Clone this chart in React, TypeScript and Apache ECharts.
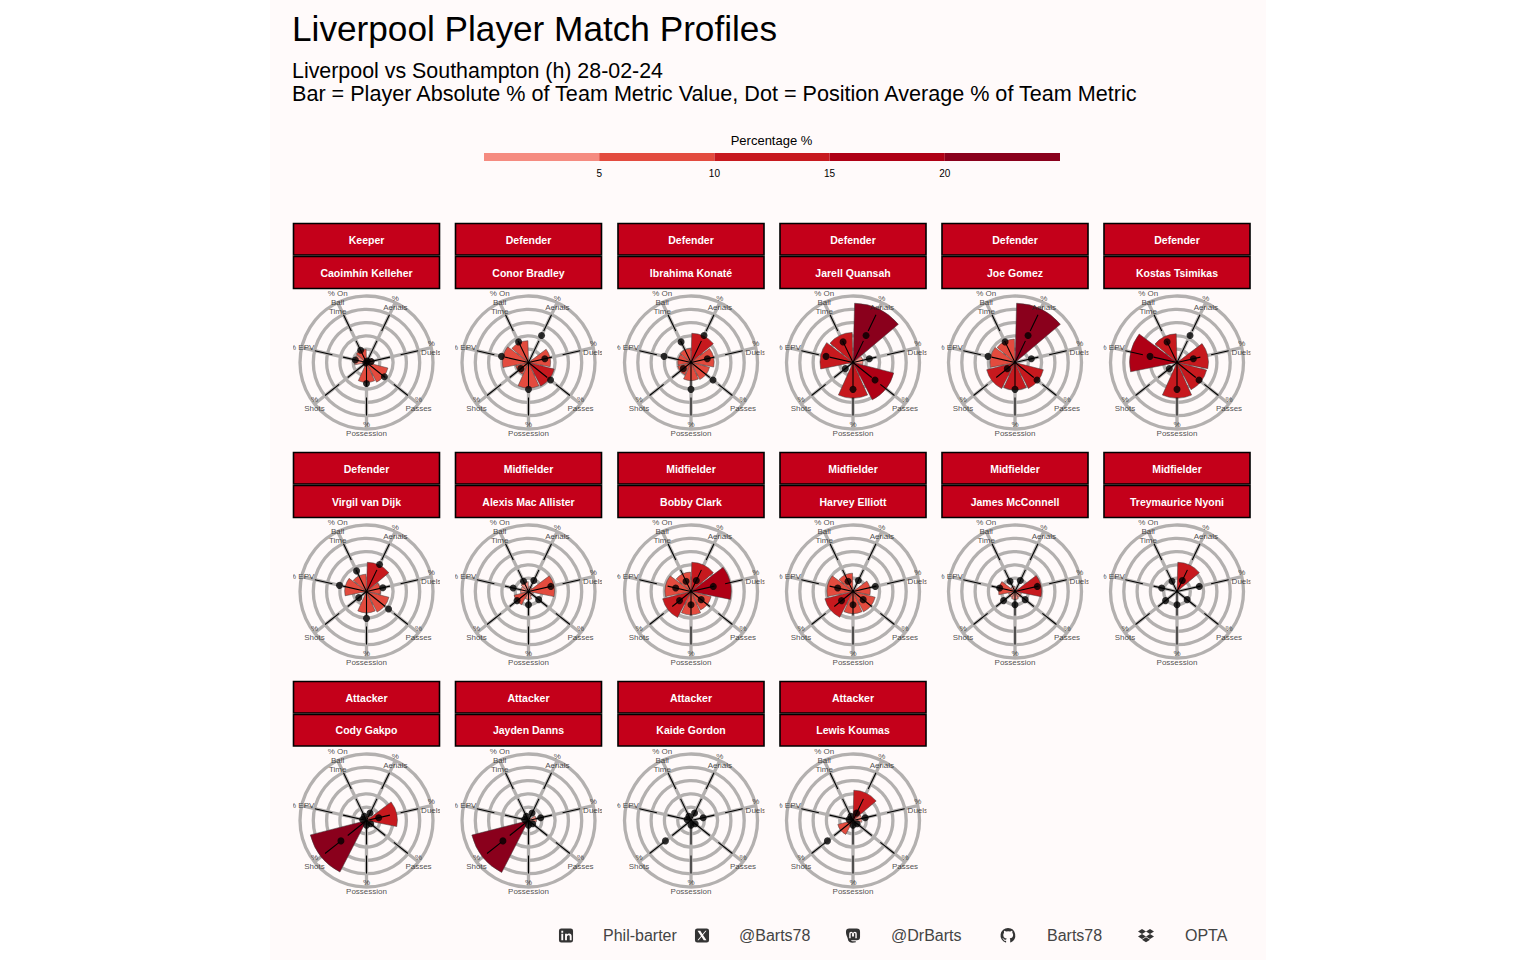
import React, { useEffect, useRef } from "react";
import * as echarts from "echarts";

const metrics = ["% Aerials", "% Duels", "% Passes", "% Possession", "% Shots", "% EPV", "% On Ball Time"];
const metricLabels = ["%\nAerials", "%\nDuels", "%\nPasses", "%\nPossession", "%\nShots", "% EPV", "% On\nBall\nTime"];

const players = [
  "Caoimhín Kelleher", "Conor Bradley", "Ibrahima Konaté", "Jarell Quansah", "Joe Gomez", "Kostas Tsimikas",
  "Virgil van Dijk", "Alexis Mac Allister", "Bobby Clark", "Harvey Elliott", "James McConnell", "Treymaurice Nyoni",
  "Cody Gakpo", "Jayden Danns", "Kaide Gordon", "Lewis Koumas",
];
const positions = [
  "Keeper", "Defender", "Defender", "Defender", "Defender", "Defender",
  "Defender", "Midfielder", "Midfielder", "Midfielder", "Midfielder", "Midfielder",
  "Attacker", "Attacker", "Attacker", "Attacker",
];

const kelleher = [1.6, 2.6, 8.3, 7.5, 0.8, 4.5, 5.0];
const bradley = [0.3, 8.3, 10.0, 9.6, 5.0, 9.8, 8.2];
const konate = [11.0, 8.7, 7.2, 6.8, 5.2, 5.0, 5.3];
const quansah = [22.3, 3.8, 15.8, 13.4, 1.0, 12.4, 11.3];
const gomez = [22.3, 0.5, 11.0, 10.3, 11.0, 9.4, 8.8];
const tsimikas = [0.4, 11.8, 11.5, 13.4, 0.5, 17.8, 10.8];
const vanDijk = [11.0, 5.3, 8.7, 8.0, 1.0, 8.2, 6.5];
const macAllister = [1.8, 9.8, 1.9, 3.0, 5.6, 3.0, 3.7];
const clark = [11.0, 15.1, 7.8, 8.8, 11.0, 9.8, 7.3];
const elliott = [0.3, 6.5, 8.6, 8.3, 10.9, 9.8, 6.9];
const mcConnell = [0.7, 10.0, 2.5, 3.0, 2.5, 6.2, 2.0];
const nyoni = [11.0, 0.3, 0.3, 0.3, 0.3, 0.3, 0.3];
const gakpo = [1.8, 11.6, 1.5, 1.5, 21.8, 0.5, 0.5];
const danns = [1.0, 3.0, 1.0, 1.0, 22.0, 0.8, 0.8];
const gordon = [0.3, 0.3, 0.3, 0.3, 0.3, 0.3, 0.3];
const koumas = [11.4, 3.4, 1.0, 1.0, 5.9, 0.8, 0.8];
const playerValues = [
  kelleher, bradley, konate, quansah, gomez, tsimikas, vanDijk, macAllister,
  clark, elliott, mcConnell, nyoni, gakpo, danns, gordon, koumas,
];

const keeperAvg = [0.6, 1.8, 8.6, 7.9, 0.3, 4.3, 5.1];
const defenderAvg = [11.3, 6.3, 10.6, 10.1, 3.7, 10.4, 8.6];
const midfielderAvg = [4.6, 8.6, 4.9, 5.0, 5.5, 5.9, 4.3];
const attackerAvg = [3.1, 4.7, 2.0, 1.8, 12.3, 1.5, 1.8];
const averages: Record<string, number[]> = {
  Keeper: keeperAvg, Defender: defenderAvg, Midfielder: midfielderAvg, Attacker: attackerAvg,
};

const legendSteps = [5, 5, 5, 5, 5];
const legendColors = ["#F58B80", "#E34B3E", "#C7191E", "#AF0015", "#8A001C"];

const BG = "#FFFAFA";
const FONT = "Liberation Sans";
const OX = 270;
const panelLefts = [293, 455, 617.5, 779.5, 941.5, 1103.5];
const panelW = 147;
const rowHeader = [223, 452, 681];
const rowCentre = [362.5, 591.5, 820.5];

const colorFor = (v: number) => legendColors[Math.min(4, Math.floor(v / 5))];

const iconPaths: Record<string, string> = {
  iconIn: "M3 6h2v7H3z M3 3h2v2H3z M7 6h2v1c.5-.8 1.3-1.2 2.3-1.2 1.7 0 2.7 1 2.7 3V13h-2V9.2c0-1-.4-1.6-1.2-1.6S9 8.2 9 9.2V13H7z",
  iconX: "M3.2 3h2.9l6.7 10H9.9z M11.6 3h1.2L4.4 13H3.2z",
  iconM: "M4 11V6a2 2 0 0 1 4 0v3V6a2 2 0 0 1 4 0v5h-1.5V6.2a.6.6 0 0 0-1.5 0V9H7V6.2a.6.6 0 0 0-1.5 0V11z",
  iconBox: "M3 0.5h10a2.5 2.5 0 0 1 2.5 2.5v10a2.5 2.5 0 0 1-2.5 2.5H3A2.5 2.5 0 0 1 .5 13V3A2.5 2.5 0 0 1 3 .5z",
  iconMasto: "M4 .5h8a3.5 3.5 0 0 1 3.5 3.5v5.5a3.5 3.5 0 0 1-3.5 3.5H6c0 1 1.5 1.4 5 1v1.2c-5 1-8 .2-8.5-3.5C2 9 .5 8 .5 4A3.5 3.5 0 0 1 4 .5z",
  iconGit: "M8 .5a7.5 7.5 0 0 0-2.4 14.6c.4.1.5-.2.5-.4v-1.4c-2.1.5-2.5-1-2.5-1-.4-.9-.9-1.1-.9-1.1-.7-.5.1-.5.1-.5.8.1 1.2.8 1.2.8.7 1.2 1.8.8 2.2.6.1-.5.3-.9.5-1.1-1.7-.2-3.4-.8-3.4-3.7 0-.8.3-1.5.8-2-.1-.2-.4-1 .1-2 0 0 .6-.2 2.1.8a7 7 0 0 1 3.8 0c1.5-1 2.1-.8 2.1-.8.4 1 .2 1.8.1 2 .5.5.8 1.2.8 2 0 2.9-1.8 3.5-3.4 3.7.3.2.5.7.5 1.4v2.1c0 .2.1.5.5.4A7.5 7.5 0 0 0 8 .5z",
  iconDrop: "M4 1.5L8 4 4 6.5 0 4z M12 1.5L16 4 12 6.5 8 4z M4 6.5 8 9 4 11.5 0 9z M12 6.5 16 9 12 11.5 8 9z M8 9.8l4 2.5-4 2.5-4-2.5z",
};
Object.keys(iconPaths).forEach((k) => {
  echarts.graphic.registerShape(k, echarts.graphic.extendPath(iconPaths[k], {}) as any);
});

const footerTexts = [
  { x: 603, t: "Phil-barter" }, { x: 739, t: "@Barts78" }, { x: 891, t: "@DrBarts" },
  { x: 1047, t: "Barts78" }, { x: 1185, t: "OPTA" },
];

function buildOption() {
  const polar: any[] = [];
  const angleAxis: any[] = [];
  const radiusAxis: any[] = [];
  const series: any[] = [];
  const graphic: any[] = [];

  const text = (x: number, y: number, t: string, fontSize: number, fill: string, extra: any = {}) => ({
    type: "text", x: x - OX, y, z: 120,
    style: { text: t, fontSize, fill, fontFamily: FONT, textAlign: "left", textVerticalAlign: "middle", ...extra },
  });

  graphic.push(text(292, 28, "Liverpool Player Match Profiles", 35.2, "#000"));
  graphic.push(text(292, 70.5, "Liverpool vs Southampton (h) 28-02-24", 21.4, "#000"));
  graphic.push(text(292, 93.5, "Bar = Player Absolute % of Team Metric Value, Dot = Position Average % of Team Metric", 21.6, "#000"));
  graphic.push(text(771.5, 140.5, "Percentage %", 13, "#000", { textAlign: "center" }));

  players.forEach((name, i) => {
    const col = i % 6;
    const row = Math.floor(i / 6);
    const left = panelLefts[col];
    const cx = left + panelW / 2;
    const cy = rowCentre[row];
    const top = rowHeader[row];
    const vals = playerValues[i];
    const avg = averages[positions[i]];

    polar.push({ center: [cx - OX, cy], radius: 66.5 });
    angleAxis.push({
      polarIndex: i, type: "category", data: metrics, startAngle: 90, clockwise: true, boundaryGap: true,
      axisLine: { show: false }, axisTick: { show: false }, axisLabel: { show: false }, splitLine: { show: false },
    });
    radiusAxis.push({
      polarIndex: i, type: "value", min: 0, max: 25, interval: 5,
      axisLine: { show: false }, axisTick: { show: false }, axisLabel: { show: false },
      splitLine: { show: true, lineStyle: { color: "#B3B0AF", width: 3.3 } },
    });

    metrics.forEach((_, m) => {
      series.push({
        type: "line", coordinateSystem: "polar", polarIndex: i, z: 1, silent: true, symbol: "none",
        data: [[0, m], [25, m]], lineStyle: { color: "#B3B0AF", width: 3.3 },
      });
    });
    series.push({
      type: "bar", coordinateSystem: "polar", polarIndex: i, z: 2, silent: true, barCategoryGap: "6%",
      data: vals.map((v) => ({ value: v, itemStyle: { color: colorFor(v), borderColor: "#3a3a3a", borderWidth: 0.5 } })),
    });
    metrics.forEach((_, m) => {
      series.push({
        type: "line", coordinateSystem: "polar", polarIndex: i, z: 3, silent: true, symbol: "none",
        data: [[0, m], [25, m]], lineStyle: { color: "#000", width: 1.1, type: [24, 11, 18, 20] },
      });
    });
    series.push({
      type: "scatter", coordinateSystem: "polar", polarIndex: i, z: 4, silent: true, symbolSize: 7,
      itemStyle: { color: "#000" }, data: avg.map((v, m) => [v, m]),
    });
    series.push({
      type: "scatter", coordinateSystem: "polar", polarIndex: i, z: 5, silent: true, symbolSize: 1,
      itemStyle: { color: "rgba(0,0,0,0)" },
      label: {
        show: true, position: "inside", formatter: "{b}", fontSize: 8, lineHeight: 9,
        color: "#222222", fontFamily: FONT,
      },
      data: metricLabels.map((l, m) => ({ name: l, value: [25, m] })),
    });

    graphic.push({
      type: "rect", z: 110, shape: { x: left - OX + 0.5, y: top + 0.5, width: panelW - 1, height: 31.5 },
      style: { fill: "#C4001A", stroke: "#000", lineWidth: 1.6 },
    });
    graphic.push({
      type: "rect", z: 110, shape: { x: left - OX + 0.5, y: top + 33.5, width: panelW - 1, height: row === 2 ? 31.5 : 32 },
      style: { fill: "#C4001A", stroke: "#000", lineWidth: 1.6 },
    });
    graphic.push(text(cx, top + 17, positions[i], 10.5, "#fff", { textAlign: "center", fontWeight: "bold" }));
    graphic.push(text(cx, top + (row === 2 ? 49 : 50), name, 10.5, "#fff", { textAlign: "center", fontWeight: "bold" }));
  });

  // panel clipping of the overflowing spoke labels
  [270, 440, 602, 764.5, 926.5, 1088.5, 1250.5].forEach((x, k) => {
    const w = k === 0 ? 23 : k === 6 ? 15.5 : 15;
    graphic.push({
      type: "rect", z: 100,
      shape: { x: x - OX, y: 223, width: w, height: 680 },
      style: { fill: BG },
    });
  });

  // legend colour bar
  const legendAxis = 5;
  legendSteps.forEach((s, k) => {
    series.push({
      type: "bar", stack: "legend", xAxisIndex: 0, yAxisIndex: 0, barWidth: "100%", silent: true,
      data: [s], itemStyle: { color: legendColors[k] },
    });
  });

  // footer icons
  const icon = (shape: string, cx: number, fill: string, cy = 935.5, s = 15) => ({
    type: shape, x: cx - OX - s / 2, y: cy - s / 2, scaleX: s / 16, scaleY: s / 16, z: 120, style: { fill },
  });
  const dark = "#333333";
  graphic.push(icon("iconBox", 566, dark));
  graphic.push({ ...icon("iconIn", 566, BG), z: 121 });
  graphic.push(icon("iconBox", 702, dark));
  graphic.push({ ...icon("iconX", 702, BG), z: 121 });
  graphic.push(icon("iconMasto", 853, dark));
  graphic.push({ ...icon("iconM", 853, BG), z: 121 });
  graphic.push(icon("iconGit", 1008, dark, 935.5, 16));
  graphic.push(icon("iconDrop", 1146, dark, 935.5, 16));
  footerTexts.forEach((f) => graphic.push(text(f.x, 935.5, f.t, 16, "#444444")));

  return {
    animation: false,
    backgroundColor: BG,
    polar, angleAxis, radiusAxis, series, graphic,
    grid: { left: 484 - OX, width: 576, top: 153, height: 8 },
    xAxis: {
      type: "value", min: 0, max: legendAxis * 5, interval: legendAxis,
      axisLine: { show: false }, axisTick: { show: false }, splitLine: { show: false },
      axisLabel: {
        margin: 7, fontSize: 10, color: "#000", fontFamily: FONT,
        formatter: (v: number) => (v === 0 || v === 25 ? "" : String(v)),
      },
    },
    yAxis: { type: "category", data: ["Percentage"], show: false },
  };
}

export default function App() {
  const ref = useRef<HTMLDivElement>(null);
  useEffect(() => {
    document.body.style.margin = "0";
    document.body.style.background = "#fff";
    const chart = echarts.init(ref.current!, undefined, { renderer: "svg" });
    chart.setOption(buildOption() as any);
    return () => chart.dispose();
  }, []);
  return <div ref={ref} style={{ position: "absolute", left: OX, top: 0, width: 996, height: 960, opacity: 0.999 }} />;
}
